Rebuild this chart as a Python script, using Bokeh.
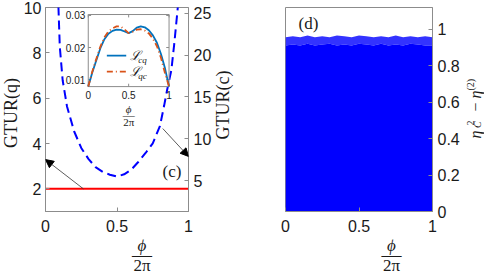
import numpy as np
from bokeh.plotting import figure
from bokeh.models import Range1d, LinearAxis, FixedTicker, Label, Arrow, NormalHead
from bokeh.layouts import row, column
from bokeh.embed import file_html
from bokeh.resources import INLINE
from bokeh.core.properties import value

# ---------------- data ----------------
# panel (c): classical GTUR (right axis), quantum GTUR (left axis)
phi_c = [0.085, 0.09, 0.10, 0.12, 0.15, 0.20, 0.25, 0.30, 0.35, 0.40, 0.45, 0.50,
         0.55, 0.60, 0.65, 0.70, 0.75, 0.80, 0.83, 0.85, 0.88, 0.90, 0.92, 0.935]
gtur_c = [27.5, 26.0, 21.0, 17.0, 13.9, 10.9, 8.9, 7.6, 6.6, 6.05, 5.7, 5.48,
          5.75, 6.3, 7.25, 8.3, 9.45, 11.5, 14.0, 15.8, 18.2, 21.3, 24.8, 27.5]
phi_q = [0.0, 0.25, 0.5, 0.75, 1.0]
gtur_q = [2.0, 2.0, 2.0, 2.0, 2.0]

# inset
inset_phi = [0.0, 0.05, 0.10, 0.15, 0.20, 0.25, 0.30, 0.35, 0.40, 0.45, 0.50,
             0.55, 0.60, 0.65, 0.70, 0.75, 0.80, 0.85, 0.90, 0.95, 1.0]
L_cq = [0.0078, 0.0122, 0.0160, 0.0198, 0.0226, 0.0243, 0.0252, 0.0256, 0.0255, 0.0250, 0.0245,
        0.0251, 0.0262, 0.0266, 0.0263, 0.0254, 0.0238, 0.0215, 0.0180, 0.0135, 0.0078]
L_qc = [0.0078, 0.0125, 0.0165, 0.0203, 0.0232, 0.0250, 0.0260, 0.0266, 0.0266, 0.0256, 0.0245,
        0.0249, 0.0256, 0.0257, 0.0253, 0.0244, 0.0228, 0.0204, 0.0168, 0.0120, 0.0078]

# panel (d): envelope of the dense scatter of eta_C^2 - eta^(2)
d_phi = [0.0, 0.05, 0.10, 0.15, 0.20, 0.25, 0.30, 0.35, 0.40, 0.45, 0.50,
         0.55, 0.60, 0.65, 0.70, 0.75, 0.80, 0.85, 0.90, 0.95, 1.0]
d_dense = [0.91, 0.915, 0.91, 0.92, 0.91, 0.915, 0.92, 0.91, 0.915, 0.91, 0.92,
           0.915, 0.91, 0.92, 0.91, 0.915, 0.91, 0.92, 0.915, 0.91, 0.91]
d_top = [0.955, 0.96, 0.955, 0.965, 0.955, 0.96, 0.955, 0.965, 0.96, 0.955, 0.965,
         0.96, 0.955, 0.96, 0.955, 0.965, 0.955, 0.96, 0.955, 0.96, 0.955]

left_ticks = [2, 4, 6, 8, 10]
right_ticks = [5, 10, 15, 20, 25]
x_ticks = [0, 0.5, 1]
x_tick_labels = {0: "0", 0.5: "0.5", 1: "1"}
inset_x_ticks = [0, 0.5, 1]
inset_x_labels = ["0", "0.5", "1"]
inset_y_ticks = [0.01, 0.02, 0.03]
inset_y_labels = ["0.01", "0.02", "0.03"]
d_y_ticks = [0, 0.2, 0.4, 0.6, 0.8, 1]
d_y_labels = {0: "0", 0.2: "0.2", 0.4: "0.4", 0.6: "0.6", 0.8: "0.8", 1: "1"}

# ---------------- style ----------------
SANS = "Liberation Sans"
SERIF = "Liberation Serif"
AX = "#8c8c8c"
TXT = "#1a1a1a"
TICK_FS = "16px"
PHI = "\u03d5"


def style_axis(ax):
    ax.axis_line_color = AX
    ax.major_tick_line_color = AX
    ax.major_tick_in = 4
    ax.major_tick_out = 0
    ax.minor_tick_in = 0
    ax.minor_tick_out = 0
    ax.minor_tick_line_color = None
    ax.major_label_text_font = SANS
    ax.major_label_text_font_size = TICK_FS
    ax.major_label_text_color = TXT
    ax.major_label_standoff = 5


def helper(w, h):
    f = figure(frame_width=w, frame_height=h, output_backend="svg", toolbar_location=None,
               x_range=Range1d(0, w), y_range=Range1d(0, h), min_border=0,
               min_border_left=0, min_border_right=0, min_border_top=0, min_border_bottom=0,
               x_axis_location=None, y_axis_location=None)
    f.grid.visible = False
    f.outline_line_color = None
    return f


FW, FH = 147, 204
TOP, BOT, FRAC_H = 7, 28, 38
H_ALL = TOP + FH + BOT + FRAC_H  # 277
STRIP = 20
L1, R1 = 43 - STRIP, 24
L2, R2 = 35, 30
W1 = L1 + FW + R1   # 194
W2 = L2 + FW + R2   # 212
HP = TOP + FH + BOT  # 239

# ---------------- panel (c) ----------------
p1 = figure(width=W1, height=HP, output_backend="svg", toolbar_location=None,
            x_range=Range1d(0, 1), y_range=Range1d(1, 10),
            min_border_left=L1, min_border_right=R1, min_border_top=TOP,
            min_border_bottom=BOT, x_axis_location=None, y_axis_location=None)
p1.extra_y_ranges = {"c": Range1d(1.3, 25.7)}
p1.grid.visible = False
p1.outline_line_color = AX

ax_l = LinearAxis(ticker=FixedTicker(ticks=left_ticks))
ax_r = LinearAxis(y_range_name="c", ticker=FixedTicker(ticks=right_ticks))
ax_b = LinearAxis(ticker=FixedTicker(ticks=x_ticks), major_label_overrides=x_tick_labels)
for a in (ax_l, ax_r, ax_b):
    style_axis(a)
ax_b.major_label_standoff = 8
ax_l.major_label_standoff = 4
p1.add_layout(ax_l, "left")
p1.add_layout(ax_r, "right")
p1.add_layout(ax_b, "below")

p1.line(phi_c, gtur_c, y_range_name="c", line_color="#0000ff", line_width=2, line_dash="9 5")
p1.line(phi_q, gtur_q, line_color="#ff0000", line_width=2)

# arrows
p1.add_layout(Arrow(x_start=0.265, y_start=2.0, x_end=0.0, y_end=3.29, line_width=0.8,
                    line_color="#333333",
                    end=NormalHead(size=8, fill_color="black", line_color="black")))
p1.add_layout(Arrow(x_start=0.82, y_start=4.66, x_end=1.0, y_end=3.43, line_width=0.8,
                    line_color="#333333",
                    end=NormalHead(size=8, fill_color="black", line_color="black")))
p1.add_layout(Label(x=0.884, y=2.76, text="(c)", text_align="center", text_baseline="middle",
                    text_font=SERIF, text_font_size="17px", text_color=TXT))

# inset via sub-coordinates
iy0, iy1 = 0.0078, 0.0303
sub = p1.subplot(x_source=Range1d(0, 1), y_source=Range1d(iy0, iy1),
                 x_target=Range1d(0.299, 0.864), y_target=Range1d(6.51, 9.69))
sub.quad(left=[0], right=[1], bottom=[iy0], top=[iy1], fill_color="white", line_color=AX,
         line_width=1)
sub.segment(x0=[0] * 3, y0=inset_y_ticks, x1=[0.035] * 3, y1=inset_y_ticks, line_color=AX)
sub.segment(x0=[1] * 3, y0=inset_y_ticks, x1=[0.965] * 3, y1=inset_y_ticks, line_color=AX)
sub.segment(x0=inset_x_ticks, y0=[iy0] * 3, x1=inset_x_ticks, y1=[iy0 + 0.0009] * 3, line_color=AX)
sub.segment(x0=inset_x_ticks, y0=[iy1] * 3, x1=inset_x_ticks, y1=[iy1 - 0.0009] * 3, line_color=AX)
sub.line(inset_phi, L_cq, line_color="#0072BD", line_width=1.8)
sub.line(inset_phi, L_qc, line_color="#D95319", line_width=1.8, line_dash="6 3 1 3")
sub.text(x=[0] * 3, y=inset_y_ticks, text=inset_y_labels, x_offset=-3, text_align="right",
         text_baseline="middle", text_font=value(SANS), text_font_size="10px", text_color=TXT)
sub.text(x=inset_x_ticks, y=[iy0] * 3, text=inset_x_labels, y_offset=4, text_align="center",
         text_baseline="top", text_font=value(SANS), text_font_size="10px", text_color=TXT)
sub.text(x=[0.5], y=[iy0], text=[PHI], y_offset=22, text_align="center", text_baseline="middle",
         text_font=value(SERIF), text_font_style="italic", text_font_size="11px", text_color=TXT)
sub.text(x=[0.5], y=[iy0], text=["—"], y_offset=28, text_align="center", text_baseline="middle",
         text_font=value(SERIF), text_font_size="12px", text_color=TXT)
sub.text(x=[0.5], y=[iy0], text=["2π"], y_offset=35, text_align="center", text_baseline="middle",
         text_font=value(SERIF), text_font_size="11px", text_color=TXT)
# inset legend
sub.line([0.23, 0.47], [0.0175, 0.0175], line_color="#0072BD", line_width=1.8)
sub.line([0.23, 0.47], [0.0125, 0.0125], line_color="#D95319", line_width=1.8, line_dash="6 3 1 3")
for yy, sb in ((0.0175, "cq"), (0.0125, "qc")):
    sub.text(x=[0.52], y=[yy], text=["ℒ"], text_align="left", text_baseline="middle",
             text_font=value(SERIF), text_font_style="italic", text_font_size="13px",
             text_color=TXT)
    sub.text(x=[0.52], y=[yy], text=[sb], x_offset=8, y_offset=4, text_align="left",
             text_baseline="middle", text_font=value(SERIF), text_font_style="italic",
             text_font_size="9px", text_color=TXT)

# ---------------- panel (d) ----------------
p2 = figure(width=W2, height=HP, output_backend="svg", toolbar_location=None,
            x_range=Range1d(0, 1), y_range=Range1d(0, 1.118),
            min_border_left=L2, min_border_right=R2, min_border_top=TOP, min_border_bottom=BOT,
            x_axis_location=None, y_axis_location=None)
p2.grid.visible = False
p2.outline_line_color = AX
ax_r2 = LinearAxis(ticker=FixedTicker(ticks=d_y_ticks), major_label_overrides=d_y_labels)
ax_b2 = LinearAxis(ticker=FixedTicker(ticks=x_ticks), major_label_overrides=x_tick_labels)
for a in (ax_r2, ax_b2):
    style_axis(a)
ax_b2.major_label_standoff = 8
p2.add_layout(ax_r2, "right")
p2.add_layout(ax_b2, "below")

p2.varea(x=d_phi, y1=[0] * len(d_phi), y2=d_dense, fill_color="#0000ff", fill_alpha=1.0)
p2.varea(x=d_phi, y1=d_dense, y2=d_top, fill_color="#0000ff", fill_alpha=0.8)

p2.add_layout(Label(x=0.156, y=1.03, text="(d)", text_align="center", text_baseline="middle",
                    text_font=SERIF, text_font_size="17px", text_color=TXT))

# ---------------- text helpers (label areas outside the frames) ----------------
def frac(f, cx):
    f.add_layout(Label(x=cx, y=32, text=PHI, text_align="center", text_baseline="middle",
                       text_font=SERIF, text_font_style="italic", text_font_size="17px",
                       text_color=TXT))
    f.add_layout(Label(x=cx, y=23, text="—", text_align="center", text_baseline="middle",
                       text_font=SERIF, text_font_size="20px", text_color=TXT))
    f.add_layout(Label(x=cx, y=12, text="2π", text_align="center", text_baseline="middle",
                       text_font=SERIF, text_font_size="17px", text_color=TXT))


f1 = helper(W1, FRAC_H)
frac(f1, L1 + 73.5)
f2 = helper(W2, FRAC_H)
frac(f2, 106)

strip = helper(STRIP, H_ALL)
strip.add_layout(Label(x=10, y=H_ALL - 112.5, text="GTUR(q)", angle=np.pi / 2,
                       text_align="center", text_baseline="middle", text_font=SERIF,
                       text_font_size="18px", text_color=TXT))

hmid = helper(36, H_ALL)
hmid.add_layout(Label(x=8, y=H_ALL - 104.5, text="GTUR(c)", angle=np.pi / 2,
                      text_align="center", text_baseline="middle", text_font=SERIF,
                      text_font_size="18px", text_color=TXT))

p3 = helper(22, H_ALL)
pieces = [
    ("η", 12.5, 139, "16px", "italic"),
    ("C", 14.5, 149.5, "10px", "italic"),
    ("2", 8, 152, "10px", "normal"),
    ("−", 12.5, 166, "16px", "normal"),
    ("η", 12.5, 179, "16px", "italic"),
    ("(2)", 8, 187, "10px", "normal"),
]
for t, xx, yy, fs, st in pieces:
    p3.add_layout(Label(x=xx, y=yy, text=t, angle=np.pi / 2, text_align="left",
                        text_baseline="alphabetic", text_font=SERIF, text_font_style=st,
                        text_font_size=fs, text_color=TXT))

layout = row(strip, column(p1, f1), hmid, column(p2, f2), p3)
open("out.html", "w").write(file_html(layout, INLINE))
